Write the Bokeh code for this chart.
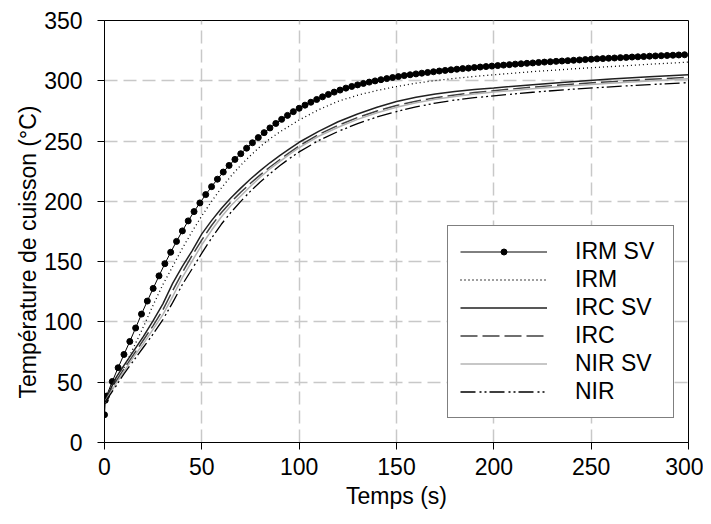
from bokeh.plotting import figure
from bokeh.models import Range1d, FixedTicker, Legend, LegendItem, Title
from bokeh.embed import file_html
from bokeh.resources import INLINE

FONT = "Liberation Sans"

# ---- data -------------------------------------------------------------
x_ticks = [0, 50, 100, 150, 200, 250, 300]
y_ticks = [0, 50, 100, 150, 200, 250, 300, 350]

irm_sv_t = [0, 0.4, 1, 4, 7, 10, 13, 16, 19, 22, 25, 28, 31, 34, 37, 40, 43, 46, 49,
            52, 55, 58, 61, 64, 67, 70, 73, 76, 79, 82, 85, 88, 91, 94, 97, 100,
            103, 106, 109, 112, 115, 118, 121, 124, 127, 130, 133, 136, 139, 142,
            145, 148, 151, 154, 157, 160, 163, 166, 169, 172, 175, 178, 181, 184,
            187, 190, 193, 196, 199, 202, 205, 208, 211, 214, 217, 220, 223, 226,
            229, 232, 235, 238, 241, 244, 247, 250, 253, 256, 259, 262, 265, 268,
            271, 274, 277, 280, 283, 286, 289, 292, 295, 298]
irm_sv = [23, 35, 38.5, 50.6, 62, 73, 83.8, 95, 106.5, 117.3, 127.8, 138.2, 148.3,
          157.8, 166.8, 175.5, 183.8, 191.5, 198.7, 205.6, 212.2, 218.4, 224.3,
          229.8, 234.8, 239.5, 244.1, 248.6, 252.9, 257.0, 260.9, 264.6, 268.0,
          271.3, 274.4, 277.2, 279.8, 282.2, 284.5, 286.7, 288.7, 290.6, 292.3,
          293.9, 295.3, 296.6, 297.8, 298.9, 299.9, 300.9, 301.8, 302.7, 303.5,
          304.3, 305.0, 305.7, 306.3, 306.9, 307.5, 308.1, 308.6, 309.1, 309.6,
          310.1, 310.5, 311.0, 311.4, 311.8, 312.2, 312.6, 313.0, 313.4, 313.8,
          314.1, 314.5, 314.8, 315.2, 315.5, 315.8, 316.1, 316.4, 316.7, 317.0,
          317.3, 317.6, 317.9, 318.2, 318.4, 318.7, 318.9, 319.2, 319.4, 319.7,
          319.9, 320.1, 320.4, 320.6, 320.8, 321.0, 321.2, 321.4, 321.6]

t = [0, 3, 6, 10, 15, 20, 25, 30, 35, 40, 45, 50, 55, 60, 65, 70, 75, 80, 85, 90,
     95, 100, 110, 120, 130, 140, 150, 160, 170, 180, 190, 200, 220, 240, 260, 280, 300]
irm = [33, 41, 50, 62, 79, 96, 114, 131, 146, 161, 175, 188, 200, 211, 221, 230, 238,
       245.5, 252, 257.5, 262.5, 267.5, 276, 283, 288, 292, 295.2, 298, 300.2, 302,
       303.6, 305, 307.6, 309.8, 311.8, 313.7, 315.5]
irc_sv = [33, 44, 54, 64, 76, 88, 101, 115, 132, 146, 159, 173, 184, 194, 203, 211,
          218.5, 225.5, 232, 238, 243.5, 249, 258, 266, 272.5, 278, 282.8, 286.3, 289,
          291.2, 292.8, 294, 296.8, 299.2, 301.4, 303.3, 305]
irc = [33, 42, 51, 61, 73, 85, 97, 110, 126, 141, 155, 168, 180, 190.5, 199.5, 207.5,
       215, 222, 228.5, 234.5, 240.5, 246, 255.5, 263, 269.5, 275, 279.5, 283, 286,
       288.3, 290.2, 291.8, 294.8, 297.2, 299.3, 301.2, 303]
nir_sv = [33, 41, 49, 59, 71, 82, 94, 106, 121, 137, 150.5, 164, 176, 187, 196.5,
          204.5, 212.5, 220, 227, 233, 239, 244.5, 254, 261.5, 268, 273.5, 278, 281.7,
          284.6, 287, 289, 290.6, 293.4, 295.9, 298, 299.9, 301.6]
nir = [33, 40, 47, 57, 68, 79, 90, 102, 116, 131, 144, 157, 169.5, 181, 191, 200,
       208.5, 216, 223, 229.5, 235.5, 241, 250.5, 258, 264.5, 270, 274.5, 278.3,
       281.5, 284, 286, 287.5, 290.5, 293, 295, 296.8, 298.5]

labels = ["IRM SV", "IRM", "IRC SV", "IRC", "NIR SV", "NIR"]
x_title = "Temps (s)"
y_title = "Température de cuisson (°C)"

# ---- figure -----------------------------------------------------------
p = figure(width=703, height=516, output_backend="svg", toolbar_location=None,
           x_range=Range1d(0, 300), y_range=Range1d(0, 350),
           min_border_left=104, min_border_right=15, min_border_top=20,
           min_border_bottom=74)
p.outline_line_color = "black"
p.outline_line_width = 1
p.background_fill_color = "white"
p.border_fill_color = "white"

p.xaxis.ticker = FixedTicker(ticks=x_ticks)
p.yaxis.ticker = FixedTicker(ticks=y_ticks)
p.xgrid.ticker = FixedTicker(ticks=x_ticks[1:-1])
p.ygrid.ticker = FixedTicker(ticks=y_ticks[1:-1])
for g in (p.xgrid, p.ygrid):
    g.grid_line_color = "#c8c8c8"
    g.grid_line_width = 1.5
    g.grid_line_dash = "13 6"

for ax in (p.xaxis, p.yaxis):
    ax.axis_line_color = "black"
    ax.axis_line_width = 1
    ax.major_tick_line_color = "black"
    ax.major_tick_out = 7
    ax.major_tick_in = 0
    ax.minor_tick_line_color = None
    ax.major_label_text_font = FONT
    ax.major_label_text_font_size = "23px"
    ax.major_label_text_color = "black"
    ax.axis_label_text_font = FONT
    ax.axis_label_text_font_size = "23px"
    ax.axis_label_text_font_style = "normal"
    ax.axis_label_text_color = "black"

p.xaxis.axis_label = x_title
p.yaxis.major_label_standoff = 15
p.xaxis.major_label_standoff = 8
p.xaxis.axis_label_standoff = 5

# y-axis title placed from the bottom of the frame, as in the original
ytitle = Title(text=y_title, align="left", offset=44, standoff=2,
               text_font=FONT, text_font_size="23px", text_font_style="normal",
               text_color="black")
p.add_layout(ytitle, "left")

# ---- series -----------------------------------------------------------
r_irm_sv_l = p.line(irm_sv_t, irm_sv, line_color="black", line_width=1)
r_irm_sv_s = p.scatter(irm_sv_t, irm_sv, marker="circle", size=6,
                       fill_color="black", line_color="black")
r_irm = p.line(t, irm, line_color="black", line_width=1.3, line_dash="1 3")
r_irc_sv = p.line(t, irc_sv, line_color="#202020", line_width=1.5)
r_irc = p.line(t, irc, line_color="#404040", line_width=1.5, line_dash="17 5")
r_nir_sv = p.line(t, nir_sv, line_color="#b4b4b4", line_width=1.5)
r_nir = p.line(t, nir, line_color="black", line_width=1.3, line_dash="15 4 2 3 2 3")

items = [
    LegendItem(label=labels[0], renderers=[r_irm_sv_l, r_irm_sv_s]),
    LegendItem(label=labels[1], renderers=[r_irm]),
    LegendItem(label=labels[2], renderers=[r_irc_sv]),
    LegendItem(label=labels[3], renderers=[r_irc]),
    LegendItem(label=labels[4], renderers=[r_nir_sv]),
    LegendItem(label=labels[5], renderers=[r_nir]),
]
legend = Legend(items=items, location=(343, 24))
legend.glyph_width = 87
legend.glyph_height = 15
legend.label_height = 26
legend.label_width = 86
legend.label_standoff = 28
legend.padding = 12
legend.spacing = 1
legend.margin = 0
legend.label_text_font = FONT
legend.label_text_font_size = "23px"
legend.label_text_color = "black"
legend.border_line_color = "black"
legend.border_line_width = 1.5
legend.background_fill_color = "white"
legend.background_fill_alpha = 1
p.add_layout(legend)

open("out.html", "w").write(file_html(p, INLINE))
